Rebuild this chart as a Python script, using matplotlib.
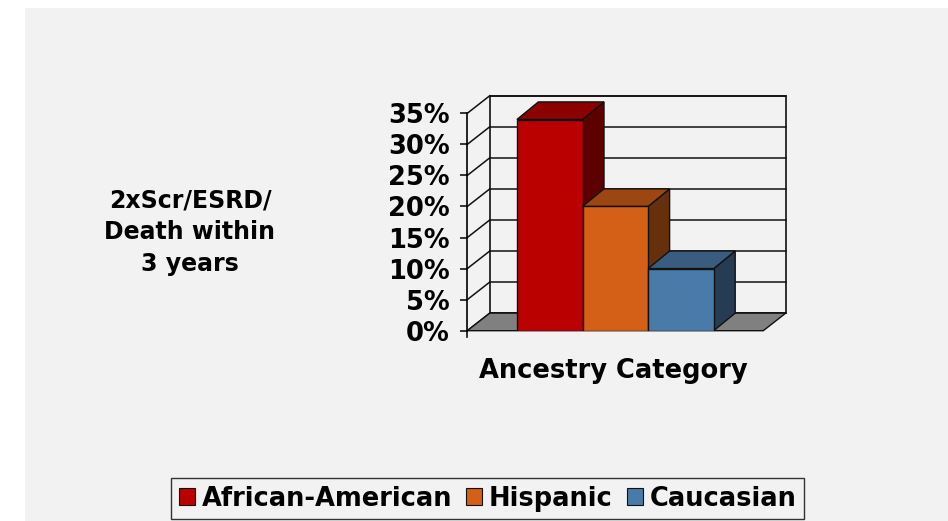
import matplotlib.pyplot as plt
from matplotlib.patches import Polygon, Rectangle, Patch

# data
series = ['African-American', 'Hispanic', 'Caucasian']
values = [34, 20, 10]          # percent
yticks = [0, 5, 10, 15, 20, 25, 30, 35]
ytick_labels = ['%d%%' % t for t in yticks]

# colours: front face, top face, side face
front_col = ['#BB0000', '#D45F16', '#4A7AA8']
top_col = ['#8C0000', '#9C4611', '#3A5C7E']
side_col = ['#5C0000', '#66300C', '#263C54']
bg = '#F2F2F2'

W, H = 948, 521
fig = plt.figure(figsize=(W / 100, H / 100), dpi=100, facecolor='white')
fig.patches.append(Rectangle((25 / W, 0), 1 - 25 / W, 1 - 8 / H,
                             transform=fig.transFigure, facecolor=bg,
                             edgecolor='none', zorder=-10))

# front plane of the 3d box
ax = fig.add_axes([467.3 / W, (H - 330.7) / H, 296 / W, 217.4 / H])
ax.set_facecolor('none')
ax.set_xlim(0, 1)
ax.set_ylim(0, 35)
for s in ['top', 'right', 'bottom']:
    ax.spines[s].set_visible(False)
ax.spines['left'].set_linewidth(1.2)
ax.set_xticks([])
ax.set_yticks(yticks)
ax.set_yticklabels(ytick_labels, fontsize=18.5, fontweight='heavy')
ax.tick_params(axis='y', direction='out', length=5, width=1.1, pad=7.5)

# depth of the box in data units
dx = 22.5 / 296
dy = 17.6 / 217.4 * 35
bdx = 21.5 / 296
lc = '#111111'

# back wall with gridlines, and left wall lines
ax.add_patch(Polygon([(dx, dy), (1 + dx, dy), (1 + dx, 35 + dy), (dx, 35 + dy)],
                     closed=True, facecolor=bg, edgecolor=lc, lw=1.2,
                     clip_on=False, zorder=1))
for t in yticks:
    ax.plot([dx, 1 + dx], [t + dy, t + dy], color=lc, lw=1.1,
            clip_on=False, zorder=1)
    ax.plot([0, dx], [t, t + dy], color=lc, lw=1.1, clip_on=False, zorder=1)
ax.plot([0, 0], [0, -1.0], color=lc, lw=1.2, clip_on=False, zorder=2)

# floor
ax.add_patch(Polygon([(0, 0), (1, 0), (1 + dx, dy), (dx, dy)], closed=True,
                     facecolor='#808080', edgecolor=lc, lw=1.0,
                     clip_on=False, zorder=2))

# bars
bw = 65.6 / 296
xs = [0.5 - bw, 0.5, 0.5 + bw]
for i, v in enumerate(values):
    x0 = xs[i] - bw / 2
    x1 = xs[i] + bw / 2
    z = 3 + i
    ax.add_patch(Polygon([(x1, 0), (x1 + bdx, dy), (x1 + bdx, v + dy), (x1, v)],
                         closed=True, facecolor=side_col[i], edgecolor=lc,
                         lw=1.0, clip_on=False, zorder=z))
    ax.add_patch(Polygon([(x0, v), (x1, v), (x1 + bdx, v + dy), (x0 + bdx, v + dy)],
                         closed=True, facecolor=top_col[i], edgecolor=lc,
                         lw=1.0, clip_on=False, zorder=z))
    ax.bar(xs[i], v, width=bw, color=front_col[i], edgecolor=lc, lw=1.0,
           zorder=z)

# axis titles
fig.text(613 / W, (H - 378.3) / H, 'Ancestry Category', ha='center',
         va='baseline', fontsize=18.5, fontweight='bold')
fig.text(190 / W, (H - 232) / H, '2xScr/ESRD/\nDeath within\n3 years',
         ha='center', va='center', multialignment='center',
         fontsize=17, fontweight='bold', linespacing=1.4)

# legend
handles = [Patch(facecolor=c, edgecolor=lc, lw=0.8) for c in front_col]
leg = fig.legend(handles, series, loc='center', ncol=3,
                 bbox_to_anchor=(487.6 / W, (H - 498.6) / H),
                 prop={'weight': 'bold', 'size': 18.5},
                 handlelength=0.62, handleheight=0.62, handletextpad=0.27,
                 columnspacing=0.55, borderpad=0.3, borderaxespad=0,
                 frameon=True, fancybox=False, framealpha=1)
leg.get_frame().set_facecolor(bg)
leg.get_frame().set_edgecolor('#333333')
leg.get_frame().set_linewidth(1.0)

fig.savefig('out.png', dpi=100, facecolor='white')
